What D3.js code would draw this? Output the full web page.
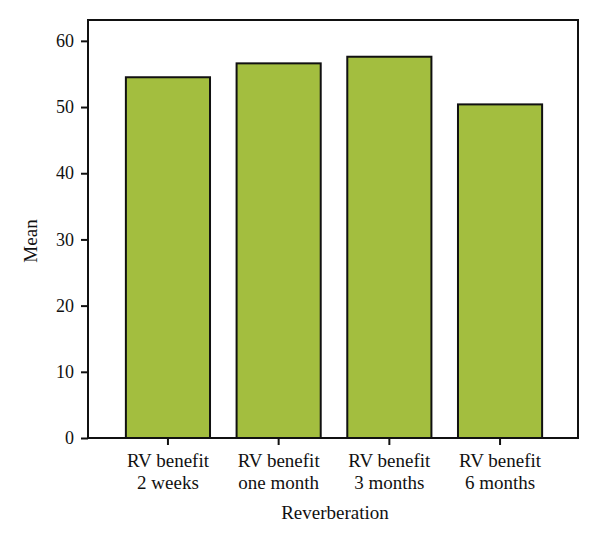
<!DOCTYPE html>
<html><head><meta charset="utf-8">
<script src="https://cdn.jsdelivr.net/npm/d3@7"></script>
<style>body{margin:0;background:#fff}svg{display:block}text{font-family:"Liberation Serif","DejaVu Serif",serif;fill:#111}</style>
</head><body>
<svg id="c" width="600" height="547"></svg>
<script>
const categories = [["RV benefit","2 weeks"],["RV benefit","one month"],["RV benefit","3 months"],["RV benefit","6 months"]];
const values = [54.5, 56.6, 57.6, 50.4];
const yTicks = [0,10,20,30,40,50,60];

const svg = d3.select("#c");
const L=88, R=578, T=20, B=438;
const y = d3.scaleLinear().domain([0,63.15]).range([B,T]);
const x = d3.scaleBand().domain(d3.range(categories.length)).range([112.6,555.4]).paddingInner(0.24).paddingOuter(0.12);

// frame
svg.append("rect").attr("x",L).attr("y",T).attr("width",R-L).attr("height",B-T)
  .attr("fill","none").attr("stroke","#111").attr("stroke-width",2);

svg.selectAll(".bar").data(values).join("rect")
  .attr("x",(d,i)=>x(i)).attr("width",x.bandwidth())
  .attr("y",d=>y(d)).attr("height",d=>B-y(d))
  .attr("fill","#a3be3f").attr("stroke","#111").attr("stroke-width",2);

const ya = svg.append("g").attr("transform",`translate(${L},0)`)
  .call(d3.axisLeft(y).tickValues(yTicks).tickSize(7).tickPadding(7));
ya.select(".domain").remove();
ya.selectAll("line").attr("stroke","#111").attr("stroke-width",2);
ya.selectAll("text").style("font-size","18px").attr("fill","#111");

const xa = svg.append("g").attr("transform",`translate(0,${B})`)
  .call(d3.axisBottom(x).tickSize(7).tickFormat(""));
xa.select(".domain").remove();
xa.selectAll("line").attr("stroke","#111").attr("stroke-width",2);
xa.selectAll(".tick").each(function(d){
  const t = d3.select(this).append("text").attr("text-anchor","middle").style("font-size","19px").attr("fill","#111");
  categories[d].forEach((s,j)=>t.append("tspan").attr("x",0).attr("y",29+j*22).text(s));
});

svg.append("text").attr("x",335).attr("y",519).attr("text-anchor","middle").style("font-size","19px").text("Reverberation");
svg.append("text").attr("transform","translate(37,241) rotate(-90)").attr("text-anchor","middle").style("font-size","19px").text("Mean");
</script>
</body></html>
